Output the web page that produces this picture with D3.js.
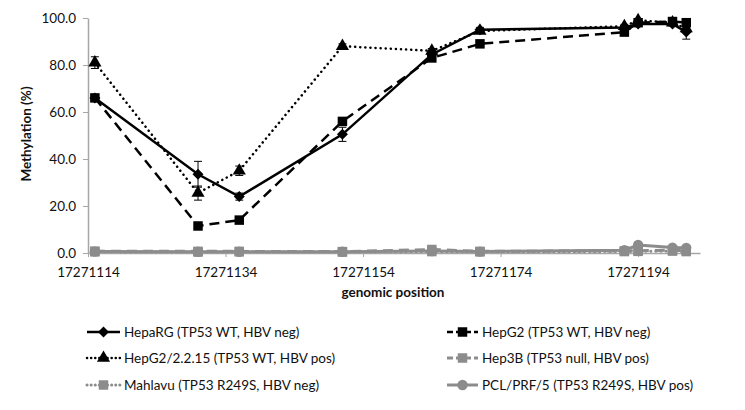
<!DOCTYPE html>
<html>
<head>
<meta charset="utf-8">
<script src="https://cdn.jsdelivr.net/npm/d3@7"></script>
<style>
  html, body { margin: 0; padding: 0; background: #fff; }
  svg { display: block; font-family: Lato, "Open Sans", sans-serif; }
</style>
</head>
<body>
<svg id="chart" width="745" height="410"></svg>
<script>
// ---- data ----
const positions = [17271115, 17271130, 17271136, 17271151, 17271164, 17271171, 17271192, 17271194, 17271199, 17271201];
const xTicks = [17271114, 17271134, 17271154, 17271174, 17271194];
const yTicks = [0, 20, 40, 60, 80, 100];

const seriesNames = [
  "HepaRG (TP53 WT, HBV neg)",
  "HepG2 (TP53 WT, HBV neg)",
  "HepG2/2.2.15 (TP53 WT, HBV pos)",
  "Hep3B (TP53 null, HBV pos)",
  "Mahlavu (TP53 R249S, HBV neg)",
  "PCL/PRF/5 (TP53 R249S, HBV pos)"
];
const hepaRG     = [66.0, 33.5, 24.0, 50.5, 84.5, 95.0, 96.0, 97.5, 97.5, 94.0];
const hepG2      = [66.0, 11.5, 14.0, 56.0, 83.0, 89.0, 94.0, 98.0, 98.5, 98.0];
const hepG2215   = [81.0, 25.5, 35.0, 88.0, 86.0, 94.5, 96.5, 99.0, 98.0, 95.5];
const hep3B      = [0.8, 0.7, 0.7, 0.6, 1.5, 0.7, 0.9, 1.0, 1.2, 1.0];
const mahlavu    = [0.5, 0.4, 0.5, 0.4, 0.6, 0.5, 0.6, 0.7, 0.8, 0.6];
const pclPrf5    = [0.6, 0.5, 0.5, 0.5, 0.8, 0.6, 1.2, 3.4, 2.3, 2.2];

const errHepaRG   = [1.0, 5.5, 1.5, 3.0, 1.5, 1.0, 0.8, 0.8, 0.8, 3.0];
const errHepG2    = [1.0, 1.0, 1.0, 1.0, 1.0, 0.8, 0.8, 0.5, 0.5, 0.5];
const errHepG2215 = [2.5, 3.0, 2.0, 1.0, 1.0, 0.8, 0.8, 0.5, 0.5, 1.5];

// ---- layout ----
const svg = d3.select("#chart");
const x = d3.scaleLinear().domain([17271114, 17271203]).range([88, 700]);
const y = d3.scaleLinear().domain([0, 100]).range([253, 18]);

const axisColor = "#a6a6a6";
const gray = "#8c8c8c";

// y axis
const yAxis = svg.append("g").attr("transform", "translate(88,0)")
  .call(d3.axisLeft(y).tickValues(yTicks).tickFormat(d3.format(".1f")).tickSize(5).tickSizeOuter(0));
yAxis.select(".domain").attr("stroke", axisColor).attr("stroke-width", 1.5);
yAxis.selectAll(".tick line").attr("stroke", axisColor);
yAxis.selectAll(".tick text").attr("font-size", 13.5).attr("fill", "#111").attr("font-family", "Lato").attr("x", -12);

// x axis
const xAxis = svg.append("g").attr("transform", "translate(0,253)")
  .call(d3.axisBottom(x).tickValues(xTicks).tickFormat(d3.format("d")).tickSize(4).tickSizeOuter(0));
xAxis.select(".domain").attr("stroke", axisColor).attr("stroke-width", 1.5);
xAxis.selectAll(".tick line").attr("stroke", axisColor);
xAxis.selectAll(".tick text").attr("font-size", 13.5).attr("fill", "#111").attr("font-family", "Lato").attr("dy", "1.28em");

// axis titles
svg.append("text").attr("transform", "translate(31,134) rotate(-90)")
  .attr("text-anchor", "middle").attr("font-size", 13.5).attr("font-weight", "bold").attr("fill", "#111")
  .text("Methylation (%)");
svg.append("text").attr("x", 393).attr("y", 297)
  .attr("text-anchor", "middle").attr("font-size", 13.5).attr("font-weight", "bold").attr("fill", "#111")
  .text("genomic position");

// ---- series ----
const series = [
  { name: seriesNames[0], values: hepaRG,   err: errHepaRG,   color: "#000", dash: null,      marker: "diamond",  cap: "butt",  w: 2.5 },
  { name: seriesNames[1], values: hepG2,    err: errHepG2,    color: "#000", dash: "10,6",    marker: "square",   cap: "butt",  w: 2.5 },
  { name: seriesNames[2], values: hepG2215, err: errHepG2215, color: "#000", dash: "0.1,5",   marker: "triangle", cap: "round", w: 2.5 },
  { name: seriesNames[3], values: hep3B,    err: null,        color: gray,   dash: "10,6",    marker: "square",   cap: "butt",  w: 3 },
  { name: seriesNames[4], values: mahlavu,  err: null,        color: gray,   dash: "0.1,5",   marker: "square",   cap: "round", w: 3 },
  { name: seriesNames[5], values: pclPrf5,  err: null,        color: gray,   dash: null,      marker: "circle",   cap: "butt",  w: 3 }
];

const diamondPath = () => "M0,-5.5L5.5,0L0,5.5L-5.5,0Z";
const symbolFor = {
  diamond:  diamondPath,
  square:   d3.symbol().type(d3.symbolSquare).size(90),
  triangle: d3.symbol().type(d3.symbolTriangle).size(75),
  circle:   d3.symbol().type(d3.symbolCircle).size(85)
};

const line = d3.line().x((d, i) => x(positions[i])).y(d => y(d));

series.forEach(s => {
  const g = svg.append("g");
  g.append("path").datum(s.values)
    .attr("d", line)
    .attr("fill", "none")
    .attr("stroke", s.color)
    .attr("stroke-width", s.w)
    .attr("stroke-linecap", s.cap)
    .attr("stroke-dasharray", s.dash);
  if (s.err) {
    s.values.forEach((v, i) => {
      const e = s.err[i];
      const cx = x(positions[i]);
      g.append("line").attr("x1", cx).attr("x2", cx).attr("y1", y(v - e)).attr("y2", y(v + e))
        .attr("stroke", s.color).attr("stroke-width", 1);
      [v - e, v + e].forEach(b => {
        g.append("line").attr("x1", cx - 4).attr("x2", cx + 4).attr("y1", y(b)).attr("y2", y(b))
          .attr("stroke", s.color).attr("stroke-width", 1);
      });
    });
  }
  g.selectAll("path.mk").data(s.values).enter().append("path")
    .attr("class", "mk")
    .attr("d", symbolFor[s.marker])
    .attr("transform", (d, i) => `translate(${x(positions[i])},${y(d)})`)
    .attr("fill", s.color);
});

// ---- legend ----
const legendRows = [332, 358, 385];
series.forEach((s, k) => {
  const col = k % 2;
  const row = Math.floor(k / 2);
  const x0 = col === 0 ? 87 : 447;
  const x1 = col === 0 ? 120 : 478;
  const ly = legendRows[row];
  const g = svg.append("g");
  g.append("line").attr("x1", x0).attr("x2", x1).attr("y1", ly).attr("y2", ly)
    .attr("stroke", s.color).attr("stroke-width", s.w)
    .attr("stroke-linecap", s.cap)
    .attr("stroke-dasharray", s.dash ? (s.dash === "10,6" ? "6,3" : "0.1,4") : null);
  g.append("path").attr("d", symbolFor[s.marker])
    .attr("transform", `translate(${(x0 + x1) / 2},${ly})`).attr("fill", s.color);
  g.append("text").attr("x", x1 + 4).attr("y", ly).attr("dy", "0.35em")
    .attr("font-size", 13.5).attr("fill", "#111").text(s.name);
});
</script>
</body>
</html>
